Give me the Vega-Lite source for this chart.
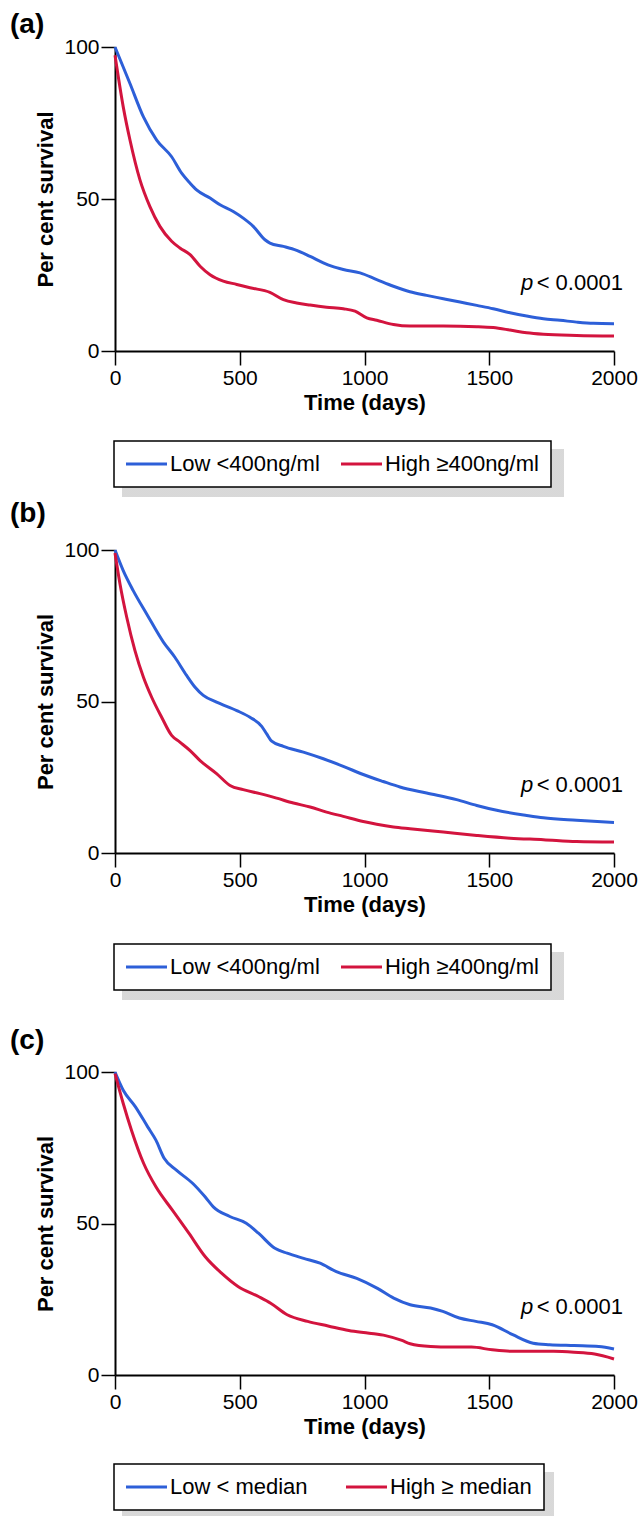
{
  "$schema": "https://vega.github.io/schema/vega-lite/v6.json",
  "padding": {"left": 10, "top": 11, "right": 2, "bottom": 0},
  "spacing": 0,
  "background": "white",
  "resolve": {
    "scale": {"color": "independent", "fill": "independent", "x": "independent", "y": "independent"},
    "legend": {"color": "independent", "fill": "independent"}
  },
  "config": {
    "font": "Liberation Sans",
    "view": {"stroke": null},
    "axis": {
      "domainColor": "black", "domainWidth": 2,
      "tickColor": "black", "tickWidth": 1.5, "tickSize": 14,
      "labelFont": "Liberation Sans", "labelFontSize": 21, "labelColor": "black", "labelPadding": 2,
      "labelFlush": false, "labelOverlap": false, "format": "d",
      "titleFont": "Liberation Sans", "titleFontSize": 22, "titleFontWeight": "bold", "titleColor": "black",
      "grid": false
    },
    "legend": {"gradientHorizontalMaxLength": 800},
    "title": {"font": "Liberation Sans", "fontSize": 28, "fontWeight": "bold", "color": "black", "anchor": "start", "frame": "group", "dx": -105}
  },
  "datasets": {
    "a": [
      {"group": "Low <400ng/ml", "t": 0, "s": 100},
      {"group": "Low <400ng/ml", "t": 60, "s": 88.0},
      {"group": "Low <400ng/ml", "t": 114, "s": 77.0},
      {"group": "Low <400ng/ml", "t": 167, "s": 69.4},
      {"group": "Low <400ng/ml", "t": 227, "s": 63.9},
      {"group": "Low <400ng/ml", "t": 267, "s": 58.5},
      {"group": "Low <400ng/ml", "t": 301, "s": 55.2},
      {"group": "Low <400ng/ml", "t": 327, "s": 53.0},
      {"group": "Low <400ng/ml", "t": 381, "s": 50.3},
      {"group": "Low <400ng/ml", "t": 421, "s": 48.1},
      {"group": "Low <400ng/ml", "t": 474, "s": 45.9},
      {"group": "Low <400ng/ml", "t": 514, "s": 43.7},
      {"group": "Low <400ng/ml", "t": 554, "s": 41.0},
      {"group": "Low <400ng/ml", "t": 601, "s": 36.6},
      {"group": "Low <400ng/ml", "t": 621, "s": 35.5},
      {"group": "Low <400ng/ml", "t": 675, "s": 34.4},
      {"group": "Low <400ng/ml", "t": 728, "s": 33.1},
      {"group": "Low <400ng/ml", "t": 782, "s": 31.1},
      {"group": "Low <400ng/ml", "t": 835, "s": 29.0},
      {"group": "Low <400ng/ml", "t": 868, "s": 27.9},
      {"group": "Low <400ng/ml", "t": 915, "s": 26.8},
      {"group": "Low <400ng/ml", "t": 982, "s": 25.7},
      {"group": "Low <400ng/ml", "t": 1049, "s": 23.5},
      {"group": "Low <400ng/ml", "t": 1116, "s": 21.3},
      {"group": "Low <400ng/ml", "t": 1182, "s": 19.5},
      {"group": "Low <400ng/ml", "t": 1249, "s": 18.3},
      {"group": "Low <400ng/ml", "t": 1316, "s": 17.2},
      {"group": "Low <400ng/ml", "t": 1383, "s": 16.1},
      {"group": "Low <400ng/ml", "t": 1450, "s": 15.0},
      {"group": "Low <400ng/ml", "t": 1516, "s": 13.9},
      {"group": "Low <400ng/ml", "t": 1583, "s": 12.6},
      {"group": "Low <400ng/ml", "t": 1650, "s": 11.5},
      {"group": "Low <400ng/ml", "t": 1717, "s": 10.6},
      {"group": "Low <400ng/ml", "t": 1784, "s": 10.1},
      {"group": "Low <400ng/ml", "t": 1850, "s": 9.5},
      {"group": "Low <400ng/ml", "t": 1917, "s": 9.1},
      {"group": "Low <400ng/ml", "t": 2000, "s": 9.0},
      {"group": "High ≥400ng/ml", "t": 0, "s": 97.3},
      {"group": "High ≥400ng/ml", "t": 33, "s": 80.3},
      {"group": "High ≥400ng/ml", "t": 60, "s": 69.4},
      {"group": "High ≥400ng/ml", "t": 100, "s": 56.3},
      {"group": "High ≥400ng/ml", "t": 140, "s": 47.5},
      {"group": "High ≥400ng/ml", "t": 180, "s": 41.0},
      {"group": "High ≥400ng/ml", "t": 227, "s": 36.1},
      {"group": "High ≥400ng/ml", "t": 260, "s": 33.9},
      {"group": "High ≥400ng/ml", "t": 301, "s": 31.7},
      {"group": "High ≥400ng/ml", "t": 341, "s": 27.9},
      {"group": "High ≥400ng/ml", "t": 381, "s": 25.1},
      {"group": "High ≥400ng/ml", "t": 434, "s": 23.0},
      {"group": "High ≥400ng/ml", "t": 488, "s": 21.9},
      {"group": "High ≥400ng/ml", "t": 541, "s": 20.8},
      {"group": "High ≥400ng/ml", "t": 621, "s": 19.3},
      {"group": "High ≥400ng/ml", "t": 675, "s": 16.9},
      {"group": "High ≥400ng/ml", "t": 728, "s": 15.8},
      {"group": "High ≥400ng/ml", "t": 782, "s": 15.1},
      {"group": "High ≥400ng/ml", "t": 848, "s": 14.4},
      {"group": "High ≥400ng/ml", "t": 915, "s": 13.9},
      {"group": "High ≥400ng/ml", "t": 962, "s": 13.1},
      {"group": "High ≥400ng/ml", "t": 1009, "s": 10.9},
      {"group": "High ≥400ng/ml", "t": 1049, "s": 10.1},
      {"group": "High ≥400ng/ml", "t": 1116, "s": 8.7},
      {"group": "High ≥400ng/ml", "t": 1182, "s": 8.2},
      {"group": "High ≥400ng/ml", "t": 1316, "s": 8.2},
      {"group": "High ≥400ng/ml", "t": 1450, "s": 8.0},
      {"group": "High ≥400ng/ml", "t": 1516, "s": 7.7},
      {"group": "High ≥400ng/ml", "t": 1583, "s": 6.9},
      {"group": "High ≥400ng/ml", "t": 1650, "s": 6.0},
      {"group": "High ≥400ng/ml", "t": 1717, "s": 5.5},
      {"group": "High ≥400ng/ml", "t": 1850, "s": 5.1},
      {"group": "High ≥400ng/ml", "t": 2000, "s": 4.9}
    ],
    "b": [
      {"group": "Low <400ng/ml", "t": 0, "s": 100},
      {"group": "Low <400ng/ml", "t": 33, "s": 93.2},
      {"group": "Low <400ng/ml", "t": 73, "s": 86.6},
      {"group": "Low <400ng/ml", "t": 127, "s": 78.9},
      {"group": "Low <400ng/ml", "t": 194, "s": 69.6},
      {"group": "Low <400ng/ml", "t": 240, "s": 64.6},
      {"group": "Low <400ng/ml", "t": 287, "s": 58.6},
      {"group": "Low <400ng/ml", "t": 321, "s": 54.7},
      {"group": "Low <400ng/ml", "t": 354, "s": 52.0},
      {"group": "Low <400ng/ml", "t": 407, "s": 49.8},
      {"group": "Low <400ng/ml", "t": 488, "s": 47.0},
      {"group": "Low <400ng/ml", "t": 541, "s": 44.8},
      {"group": "Low <400ng/ml", "t": 588, "s": 41.8},
      {"group": "Low <400ng/ml", "t": 608, "s": 39.3},
      {"group": "Low <400ng/ml", "t": 628, "s": 36.9},
      {"group": "Low <400ng/ml", "t": 675, "s": 35.2},
      {"group": "Low <400ng/ml", "t": 755, "s": 33.3},
      {"group": "Low <400ng/ml", "t": 835, "s": 31.1},
      {"group": "Low <400ng/ml", "t": 915, "s": 28.6},
      {"group": "Low <400ng/ml", "t": 995, "s": 25.9},
      {"group": "Low <400ng/ml", "t": 1075, "s": 23.6},
      {"group": "Low <400ng/ml", "t": 1142, "s": 21.8},
      {"group": "Low <400ng/ml", "t": 1249, "s": 19.8},
      {"group": "Low <400ng/ml", "t": 1369, "s": 17.6},
      {"group": "Low <400ng/ml", "t": 1450, "s": 15.7},
      {"group": "Low <400ng/ml", "t": 1530, "s": 14.1},
      {"group": "Low <400ng/ml", "t": 1650, "s": 12.4},
      {"group": "Low <400ng/ml", "t": 1717, "s": 11.6},
      {"group": "Low <400ng/ml", "t": 1850, "s": 10.8},
      {"group": "Low <400ng/ml", "t": 2000, "s": 10.1},
      {"group": "High ≥400ng/ml", "t": 0, "s": 99},
      {"group": "High ≥400ng/ml", "t": 20, "s": 88.8},
      {"group": "High ≥400ng/ml", "t": 47, "s": 77.8},
      {"group": "High ≥400ng/ml", "t": 80, "s": 66.8},
      {"group": "High ≥400ng/ml", "t": 114, "s": 58.0},
      {"group": "High ≥400ng/ml", "t": 147, "s": 51.4},
      {"group": "High ≥400ng/ml", "t": 187, "s": 44.8},
      {"group": "High ≥400ng/ml", "t": 227, "s": 38.8},
      {"group": "High ≥400ng/ml", "t": 260, "s": 36.6},
      {"group": "High ≥400ng/ml", "t": 301, "s": 33.8},
      {"group": "High ≥400ng/ml", "t": 341, "s": 30.5},
      {"group": "High ≥400ng/ml", "t": 407, "s": 26.2},
      {"group": "High ≥400ng/ml", "t": 461, "s": 22.3},
      {"group": "High ≥400ng/ml", "t": 514, "s": 20.9},
      {"group": "High ≥400ng/ml", "t": 581, "s": 19.6},
      {"group": "High ≥400ng/ml", "t": 648, "s": 18.1},
      {"group": "High ≥400ng/ml", "t": 715, "s": 16.5},
      {"group": "High ≥400ng/ml", "t": 782, "s": 15.2},
      {"group": "High ≥400ng/ml", "t": 848, "s": 13.5},
      {"group": "High ≥400ng/ml", "t": 915, "s": 12.1},
      {"group": "High ≥400ng/ml", "t": 995, "s": 10.4},
      {"group": "High ≥400ng/ml", "t": 1049, "s": 9.5},
      {"group": "High ≥400ng/ml", "t": 1116, "s": 8.6},
      {"group": "High ≥400ng/ml", "t": 1182, "s": 8.0},
      {"group": "High ≥400ng/ml", "t": 1316, "s": 6.9},
      {"group": "High ≥400ng/ml", "t": 1450, "s": 5.8},
      {"group": "High ≥400ng/ml", "t": 1583, "s": 4.9},
      {"group": "High ≥400ng/ml", "t": 1717, "s": 4.4},
      {"group": "High ≥400ng/ml", "t": 1850, "s": 3.8},
      {"group": "High ≥400ng/ml", "t": 2000, "s": 3.6}
    ],
    "c": [
      {"group": "Low < median", "t": 0, "s": 100},
      {"group": "Low < median", "t": 33, "s": 94.0},
      {"group": "Low < median", "t": 82, "s": 88.5},
      {"group": "Low < median", "t": 131, "s": 81.9},
      {"group": "Low < median", "t": 164, "s": 77.5},
      {"group": "Low < median", "t": 197, "s": 71.5},
      {"group": "Low < median", "t": 246, "s": 67.6},
      {"group": "Low < median", "t": 312, "s": 63.2},
      {"group": "Low < median", "t": 361, "s": 58.8},
      {"group": "Low < median", "t": 394, "s": 55.5},
      {"group": "Low < median", "t": 460, "s": 52.3},
      {"group": "Low < median", "t": 526, "s": 50.1},
      {"group": "Low < median", "t": 575, "s": 46.8},
      {"group": "Low < median", "t": 641, "s": 41.8},
      {"group": "Low < median", "t": 690, "s": 40.2},
      {"group": "Low < median", "t": 756, "s": 38.5},
      {"group": "Low < median", "t": 822, "s": 36.9},
      {"group": "Low < median", "t": 887, "s": 34.1},
      {"group": "Low < median", "t": 969, "s": 31.9},
      {"group": "Low < median", "t": 1052, "s": 28.6},
      {"group": "Low < median", "t": 1117, "s": 25.4},
      {"group": "Low < median", "t": 1183, "s": 23.2},
      {"group": "Low < median", "t": 1265, "s": 22.1},
      {"group": "Low < median", "t": 1314, "s": 21.0},
      {"group": "Low < median", "t": 1380, "s": 18.8},
      {"group": "Low < median", "t": 1446, "s": 17.7},
      {"group": "Low < median", "t": 1512, "s": 16.6},
      {"group": "Low < median", "t": 1594, "s": 13.3},
      {"group": "Low < median", "t": 1676, "s": 10.5},
      {"group": "Low < median", "t": 1742, "s": 10.0},
      {"group": "Low < median", "t": 1840, "s": 9.7},
      {"group": "Low < median", "t": 1939, "s": 9.4},
      {"group": "Low < median", "t": 2000, "s": 8.6},
      {"group": "High ≥ median", "t": 0, "s": 99.5},
      {"group": "High ≥ median", "t": 33, "s": 89.6},
      {"group": "High ≥ median", "t": 66, "s": 80.8},
      {"group": "High ≥ median", "t": 115, "s": 69.8},
      {"group": "High ≥ median", "t": 164, "s": 62.1},
      {"group": "High ≥ median", "t": 230, "s": 54.4},
      {"group": "High ≥ median", "t": 296, "s": 46.8},
      {"group": "High ≥ median", "t": 361, "s": 39.1},
      {"group": "High ≥ median", "t": 427, "s": 33.6},
      {"group": "High ≥ median", "t": 493, "s": 29.2},
      {"group": "High ≥ median", "t": 575, "s": 25.9},
      {"group": "High ≥ median", "t": 624, "s": 23.7},
      {"group": "High ≥ median", "t": 690, "s": 19.9},
      {"group": "High ≥ median", "t": 772, "s": 17.7},
      {"group": "High ≥ median", "t": 854, "s": 16.2},
      {"group": "High ≥ median", "t": 937, "s": 14.7},
      {"group": "High ≥ median", "t": 1019, "s": 13.8},
      {"group": "High ≥ median", "t": 1084, "s": 13.0},
      {"group": "High ≥ median", "t": 1150, "s": 11.4},
      {"group": "High ≥ median", "t": 1183, "s": 10.3},
      {"group": "High ≥ median", "t": 1265, "s": 9.4},
      {"group": "High ≥ median", "t": 1347, "s": 9.2},
      {"group": "High ≥ median", "t": 1429, "s": 9.2},
      {"group": "High ≥ median", "t": 1512, "s": 8.3},
      {"group": "High ≥ median", "t": 1594, "s": 7.8},
      {"group": "High ≥ median", "t": 1758, "s": 7.8},
      {"group": "High ≥ median", "t": 1840, "s": 7.5},
      {"group": "High ≥ median", "t": 1922, "s": 6.9},
      {"group": "High ≥ median", "t": 2000, "s": 5.3}
    ],
    "note": [{"p": "p", "rest": "< 0.0001"}]
  },
  "vconcat": [
    {
      "width": 499, "height": 304,
      "title": {"text": "(a)", "offset": -3},
      "layer": [
        {
          "data": {"name": "a"},
          "mark": {"type": "line", "strokeWidth": 3, "interpolate": "monotone"},
          "encoding": {
            "x": {"field": "t", "type": "quantitative", "scale": {"domain": [0, 2000], "nice": false}, "axis": {"values": [0, 500, 1000, 1500, 2000], "title": "Time (days)", "titlePadding": 4}},
            "y": {"field": "s", "type": "quantitative", "scale": {"domain": [0, 100], "nice": false}, "axis": {"values": [0, 50, 100], "title": "Per cent survival", "titlePadding": 6}},
            "color": {"field": "group", "type": "nominal", "sort": null,
              "scale": {"domain": ["Low <400ng/ml", "High ≥400ng/ml"], "range": ["#2d5fd8", "#d3143e"]},
              "legend": {"orient": "none", "legendX": -1, "legendY": 394, "direction": "horizontal", "title": null,
                "symbolType": "M-11,0H30", "symbolSize": 4, "symbolStrokeWidth": 3,
                "labelFont": "Liberation Sans", "labelFontSize": 22, "labelColor": "black", "labelLimit": 400, "labelOffset": 22,
                "columnPadding": 15, "padding": 12, "strokeColor": "black", "fillColor": "white", "zindex": 1,
                "encode": {"legend": {"update": {"strokeWidth": {"value": 1.5}}}}}
            }
          }
        },
        {
          "data": {"name": "a"},
          "mark": {"type": "point", "size": 0, "filled": true, "strokeWidth": 0},
          "encoding": {
            "x": {"field": "t", "type": "quantitative"},
            "y": {"field": "s", "type": "quantitative"},
            "fill": {"field": "s", "type": "quantitative", "scale": {"range": ["#c8c8c8", "#c8c8c8"]},
              "legend": {"orient": "none", "legendX": 7, "legendY": 402, "direction": "horizontal", "title": null,
                "gradientLength": 442, "gradientThickness": 48, "gradientStrokeWidth": 0,
                "labelExpr": "''", "labelOpacity": 0, "labelFontSize": 1, "padding": 0, "zindex": 0}}
          }
        },
        {
          "data": {"name": "note"},
          "mark": {"type": "text", "align": "right", "baseline": "alphabetic", "fontSize": 22, "fontStyle": "italic", "font": "Liberation Sans", "color": "black"},
          "encoding": {"x": {"datum": 1676}, "y": {"datum": 20}, "text": {"field": "p"}}
        },
        {
          "data": {"name": "note"},
          "mark": {"type": "text", "align": "left", "baseline": "alphabetic", "fontSize": 22, "font": "Liberation Sans", "color": "black"},
          "encoding": {"x": {"datum": 1690}, "y": {"datum": 20}, "text": {"field": "rest"}}
        }
      ]
    },
    {
      "width": 499, "height": 303,
      "title": {"text": "(b)", "offset": 11},
      "layer": [
        {
          "data": {"name": "b"},
          "mark": {"type": "line", "strokeWidth": 3, "interpolate": "monotone"},
          "encoding": {
            "x": {"field": "t", "type": "quantitative", "scale": {"domain": [0, 2000], "nice": false}, "axis": {"values": [0, 500, 1000, 1500, 2000], "title": "Time (days)", "titlePadding": 4}},
            "y": {"field": "s", "type": "quantitative", "scale": {"domain": [0, 100], "nice": false}, "axis": {"values": [0, 50, 100], "title": "Per cent survival", "titlePadding": 6}},
            "color": {"field": "group", "type": "nominal", "sort": null,
              "scale": {"domain": ["Low <400ng/ml", "High ≥400ng/ml"], "range": ["#2d5fd8", "#d3143e"]},
              "legend": {"orient": "none", "legendX": -1, "legendY": 394, "direction": "horizontal", "title": null,
                "symbolType": "M-11,0H30", "symbolSize": 4, "symbolStrokeWidth": 3,
                "labelFont": "Liberation Sans", "labelFontSize": 22, "labelColor": "black", "labelLimit": 400, "labelOffset": 22,
                "columnPadding": 15, "padding": 12, "strokeColor": "black", "fillColor": "white", "zindex": 1,
                "encode": {"legend": {"update": {"strokeWidth": {"value": 1.5}}}}}
            }
          }
        },
        {
          "data": {"name": "b"},
          "mark": {"type": "point", "size": 0, "filled": true, "strokeWidth": 0},
          "encoding": {
            "x": {"field": "t", "type": "quantitative"},
            "y": {"field": "s", "type": "quantitative"},
            "fill": {"field": "s", "type": "quantitative", "scale": {"range": ["#c8c8c8", "#c8c8c8"]},
              "legend": {"orient": "none", "legendX": 7, "legendY": 402, "direction": "horizontal", "title": null,
                "gradientLength": 442, "gradientThickness": 48, "gradientStrokeWidth": 0,
                "labelExpr": "''", "labelOpacity": 0, "labelFontSize": 1, "padding": 0, "zindex": 0}}
          }
        },
        {
          "data": {"name": "note"},
          "mark": {"type": "text", "align": "right", "baseline": "alphabetic", "fontSize": 22, "fontStyle": "italic", "font": "Liberation Sans", "color": "black"},
          "encoding": {"x": {"datum": 1676}, "y": {"datum": 20}, "text": {"field": "p"}}
        },
        {
          "data": {"name": "note"},
          "mark": {"type": "text", "align": "left", "baseline": "alphabetic", "fontSize": 22, "font": "Liberation Sans", "color": "black"},
          "encoding": {"x": {"datum": 1690}, "y": {"datum": 20}, "text": {"field": "rest"}}
        }
      ]
    },
    {
      "width": 499, "height": 303,
      "title": {"text": ["", "(c)"], "offset": 6, "lineHeight": 24},
      "layer": [
        {
          "data": {"name": "c"},
          "mark": {"type": "line", "strokeWidth": 3, "interpolate": "monotone"},
          "encoding": {
            "x": {"field": "t", "type": "quantitative", "scale": {"domain": [0, 2000], "nice": false}, "axis": {"values": [0, 500, 1000, 1500, 2000], "title": "Time (days)", "titlePadding": 4}},
            "y": {"field": "s", "type": "quantitative", "scale": {"domain": [0, 100], "nice": false}, "axis": {"values": [0, 50, 100], "title": "Per cent survival", "titlePadding": 6}},
            "color": {"field": "group", "type": "nominal", "sort": null,
              "scale": {"domain": ["Low < median", "High ≥ median"], "range": ["#2d5fd8", "#d3143e"]},
              "legend": {"orient": "none", "legendX": -1, "legendY": 392, "direction": "horizontal", "title": null,
                "symbolType": "M-11,0H30", "symbolSize": 4, "symbolStrokeWidth": 3,
                "labelFont": "Liberation Sans", "labelFontSize": 22, "labelColor": "black", "labelLimit": 400, "labelOffset": 22,
                "columnPadding": 32, "padding": 12, "strokeColor": "black", "fillColor": "white", "zindex": 1,
                "encode": {"legend": {"update": {"strokeWidth": {"value": 1.5}}}}}
            }
          }
        },
        {
          "data": {"name": "c"},
          "mark": {"type": "point", "size": 0, "filled": true, "strokeWidth": 0},
          "encoding": {
            "x": {"field": "t", "type": "quantitative"},
            "y": {"field": "s", "type": "quantitative"},
            "fill": {"field": "s", "type": "quantitative", "scale": {"range": ["#c8c8c8", "#c8c8c8"]},
              "legend": {"orient": "none", "legendX": 7, "legendY": 400, "direction": "horizontal", "title": null,
                "gradientLength": 432, "gradientThickness": 48, "gradientStrokeWidth": 0,
                "labelExpr": "''", "labelOpacity": 0, "labelFontSize": 1, "padding": 0, "zindex": 0}}
          }
        },
        {
          "data": {"name": "note"},
          "mark": {"type": "text", "align": "right", "baseline": "alphabetic", "fontSize": 22, "fontStyle": "italic", "font": "Liberation Sans", "color": "black"},
          "encoding": {"x": {"datum": 1676}, "y": {"datum": 20}, "text": {"field": "p"}}
        },
        {
          "data": {"name": "note"},
          "mark": {"type": "text", "align": "left", "baseline": "alphabetic", "fontSize": 22, "font": "Liberation Sans", "color": "black"},
          "encoding": {"x": {"datum": 1690}, "y": {"datum": 20}, "text": {"field": "rest"}}
        }
      ]
    }
  ]
}
